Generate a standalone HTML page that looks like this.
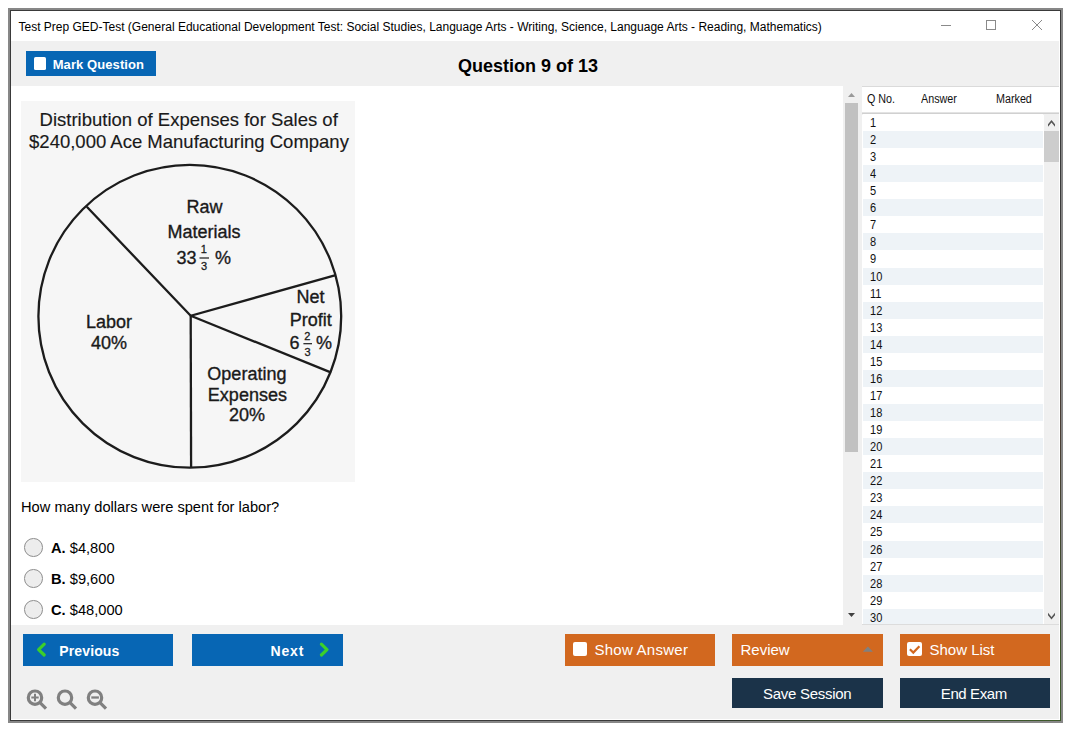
<!DOCTYPE html>
<html>
<head>
<meta charset="utf-8">
<style>
*{box-sizing:border-box;margin:0;padding:0}
html,body{width:1075px;height:735px;background:#fff;overflow:hidden;font-family:"Liberation Sans",Arial,sans-serif}
.a{position:absolute}
#frame{left:8px;top:8px;width:1055px;height:715px;border:2px solid #878787}
#frame2{left:10px;top:10px;width:1051px;height:711px;border:1px solid #3a3a3a}
#title{left:11px;top:11px;width:1048px;height:30px;background:#fff}
#title .t{left:7.5px;top:9px;font-size:12px;color:#000;white-space:nowrap}
#toolbar{left:11px;top:41px;width:1048px;height:45px;background:#f0f0f0}
#footer{left:11px;top:625px;width:1048px;height:94px;background:#f0f0f0}
#content{left:11px;top:86px;width:832px;height:539px;background:#fff}
.btn{position:absolute;color:#fff;white-space:nowrap}
.blue{background:#0766b4}
.orange{background:#d2681f}
.navy{background:#1b3349}
.txt{position:absolute;white-space:nowrap;color:#fff;font-size:15px}
.q{position:absolute;white-space:nowrap;color:#000;font-size:14.67px}
.radio{position:absolute;width:18.7px;height:18.7px;border-radius:50%;border:1px solid #8e8e8e;background:#ededed}
#sb{left:843px;top:86px;width:19px;height:539px;background:#f0f0f0}
#panel{left:862px;top:86px;width:197px;height:539px;background:#fff}
.row{position:absolute;left:1px;width:180px;height:17.06px;background:#fff}
.row.alt{background:#eef3f7}
.row span{position:absolute;left:7px;top:1px;font-size:13px;color:#111;transform:scaleX(0.85);transform-origin:0 0}
.hd{position:absolute;top:6px;font-size:12.5px;color:#111;transform:scaleX(0.86);transform-origin:0 0;white-space:nowrap}
</style>
</head>
<body>
<div class="a" id="frame"></div>
<div class="a" id="frame2"></div>
<div class="a" style="left:1060px;top:200px;width:1px;height:521px;background:linear-gradient(#3a3a3a,#4a3d33 45%,#3d4f2c 80%,#3e5a2a)"></div>
<div class="a" style="left:700px;top:720px;width:361px;height:1px;background:linear-gradient(90deg,#2a2a2a,#35452a 40%,#3e5a2a)"></div>
<div class="a" id="title"><span class="a t">Test Prep GED-Test (General Educational Development Test: Social Studies, Language Arts - Writing, Science, Language Arts - Reading, Mathematics)</span></div>
<svg class="a" style="left:930px;top:15px" width="120" height="22" viewBox="930 15 120 22">
  <line x1="941" y1="25.5" x2="951" y2="25.5" stroke="#8a8a8a" stroke-width="1"/>
  <rect x="986.5" y="20.5" width="9" height="9" fill="none" stroke="#8a8a8a" stroke-width="1"/>
  <path d="M1032 20 L1042 30 M1042 20 L1032 30" stroke="#8a8a8a" stroke-width="1" fill="none"/>
</svg>
<div class="a" id="toolbar"></div>
<div class="btn blue" style="left:26px;top:51px;width:130px;height:25px"></div>
<div class="a" style="left:33.7px;top:57.2px;width:12.8px;height:13.3px;background:#fff;border-radius:1.6px"></div>
<div class="a" style="left:52.7px;top:56.6px;font-size:13px;font-weight:bold;color:#fff;white-space:nowrap;letter-spacing:0.08px">Mark Question</div>
<div class="a" style="left:458px;top:56px;font-size:18px;font-weight:bold;color:#000;white-space:nowrap">Question 9 of 13</div>

<div class="a" id="content"></div>

<svg class="a" style="left:21px;top:101px" width="334" height="381" viewBox="21 101 334 381" font-family="Liberation Sans, Arial, sans-serif">
  <rect x="21" y="101" width="334" height="381" fill="#f6f6f6"/>
  <text x="188.7" y="126.2" font-size="18.5" text-anchor="middle" fill="#1a1a1a" stroke="#1a1a1a" stroke-width="0.15">Distribution of Expenses for Sales of</text>
  <text x="189" y="148.3" font-size="18.5" text-anchor="middle" fill="#1a1a1a" stroke="#1a1a1a" stroke-width="0.15">$240,000 Ace Manufacturing Company</text>
  <g fill="none" stroke="#1c1c1c" stroke-width="2.3">
    <circle cx="189.8" cy="316.3" r="151.4"/>
    <polyline points="86.8,206.8 190.7,315.8 335.7,275.1"/>
    <line x1="190.7" y1="315.8" x2="330.1" y2="372.1"/>
    <line x1="190.7" y1="315.8" x2="191.1" y2="467.7"/>
  </g>
  <g font-size="18" fill="#1a1a1a" stroke="#1a1a1a" stroke-width="0.35" text-anchor="middle">
    <text x="204.4" y="213.4">Raw</text>
    <text x="204" y="237.9">Materials</text>
    <text x="186.4" y="264">33</text>
    <text x="215" y="264" text-anchor="start">%</text>
    <text x="109.1" y="327.8">Labor</text>
    <text x="108.9" y="348.5">40%</text>
    <text x="310.5" y="302.9">Net</text>
    <text x="310.8" y="325.8">Profit</text>
    <text x="294.4" y="348.6">6</text>
    <text x="316" y="348.6" text-anchor="start">%</text>
    <text x="246.9" y="380">Operating</text>
    <text x="247.4" y="400.5">Expenses</text>
    <text x="246.9" y="420.9">20%</text>
  </g>
  <g font-size="11" fill="#1a1a1a" stroke="#1a1a1a" stroke-width="0.3" text-anchor="middle">
    <text x="203.8" y="253.2">1</text>
    <text x="204" y="269.6">3</text>
    <text x="307.3" y="340">2</text>
    <text x="307.6" y="356.3">3</text>
  </g>
  <g stroke="#1a1a1a" stroke-width="1.2">
    <line x1="199.5" y1="258" x2="209" y2="258"/>
    <line x1="303.4" y1="343.7" x2="312" y2="343.7"/>
  </g>
</svg>

<div class="q" style="left:21px;top:499px">How many dollars were spent for labor?</div>
<div class="radio" style="left:24.2px;top:538.1px"></div>
<div class="q" style="left:51px;top:540px"><b>A.</b> $4,800</div>
<div class="radio" style="left:24.2px;top:569.1px"></div>
<div class="q" style="left:51px;top:571px"><b>B.</b> $9,600</div>
<div class="radio" style="left:24.2px;top:600.1px"></div>
<div class="q" style="left:51px;top:602px"><b>C.</b> $48,000</div>

<div class="a" id="sb"></div>
<svg class="a" style="left:843px;top:86px" width="19" height="539" viewBox="843 86 19 539">
  <polygon points="848,97 855,97 851.5,93" fill="#999"/>
  <rect x="845" y="103" width="13" height="349" fill="#c1c1c1"/>
  <polygon points="848,613 855,613 851.5,617" fill="#404040"/>
</svg>

<div class="a" id="panel">
  <div class="a" style="left:0;top:0;width:197px;height:1px;background:#dadada"></div>
  <div class="hd" style="left:5px">Q No.</div>
  <div class="hd" style="left:59px">Answer</div>
  <div class="hd" style="left:134px">Marked</div>
  <div class="a" style="left:0;top:26px;width:197px;height:3px;background:linear-gradient(#e3e3e3 0 1px,#d0d0d0 1px 2px,#f2f2f2 2px 3px)"></div>
</div>
<div class="a" id="rows" style="left:862px;top:114px;width:197px;height:510px;overflow:hidden">
<div class="row" style="top:0.00px"><span>1</span></div>
<div class="row alt" style="top:17.06px"><span>2</span></div>
<div class="row" style="top:34.12px"><span>3</span></div>
<div class="row alt" style="top:51.18px"><span>4</span></div>
<div class="row" style="top:68.24px"><span>5</span></div>
<div class="row alt" style="top:85.30px"><span>6</span></div>
<div class="row" style="top:102.36px"><span>7</span></div>
<div class="row alt" style="top:119.42px"><span>8</span></div>
<div class="row" style="top:136.48px"><span>9</span></div>
<div class="row alt" style="top:153.54px"><span>10</span></div>
<div class="row" style="top:170.60px"><span>11</span></div>
<div class="row alt" style="top:187.66px"><span>12</span></div>
<div class="row" style="top:204.72px"><span>13</span></div>
<div class="row alt" style="top:221.78px"><span>14</span></div>
<div class="row" style="top:238.84px"><span>15</span></div>
<div class="row alt" style="top:255.90px"><span>16</span></div>
<div class="row" style="top:272.96px"><span>17</span></div>
<div class="row alt" style="top:290.02px"><span>18</span></div>
<div class="row" style="top:307.08px"><span>19</span></div>
<div class="row alt" style="top:324.14px"><span>20</span></div>
<div class="row" style="top:341.20px"><span>21</span></div>
<div class="row alt" style="top:358.26px"><span>22</span></div>
<div class="row" style="top:375.32px"><span>23</span></div>
<div class="row alt" style="top:392.38px"><span>24</span></div>
<div class="row" style="top:409.44px"><span>25</span></div>
<div class="row alt" style="top:426.50px"><span>26</span></div>
<div class="row" style="top:443.56px"><span>27</span></div>
<div class="row alt" style="top:460.62px"><span>28</span></div>
<div class="row" style="top:477.68px"><span>29</span></div>
<div class="row alt" style="top:494.74px"><span>30</span></div>
</div>
<div class="a" style="left:1044px;top:114px;width:15px;height:510px;background:#f0f0f0"></div>
<div class="a" style="left:862px;top:624px;width:197px;height:1px;background:#dcdcdc"></div>
<svg class="a" style="left:1043px;top:114px" width="16" height="511" viewBox="1043 114 16 511">
  <polygon points="1048,124.2 1051.5,120.1 1055,124.2 1055,126.7 1051.5,122.6 1048,126.7" fill="#555"/>
  <rect x="1044" y="131" width="15" height="31" fill="#cdcdcd"/>
  <polygon points="1048,612.8 1051.5,616.9 1055,612.8 1055,615.3 1051.5,619.4 1048,615.3" fill="#555"/>
</svg>

<div class="a" id="footer"></div>
<!-- Previous -->
<div class="btn blue" style="left:23px;top:634px;width:150px;height:32px"></div>
<svg class="a" style="left:23px;top:634px" width="150" height="32" viewBox="23 634 150 32">
  <polyline points="44.2,644.2 38.6,649.6 44.2,655" fill="none" stroke="#3ccf2a" stroke-width="3.2" stroke-linecap="round" stroke-linejoin="round"/>
</svg>
<div class="txt" style="left:59.3px;top:642.9px;font-size:14px;font-weight:bold;letter-spacing:0.12px;transform:none">Previous</div>
<!-- Next -->
<div class="btn blue" style="left:192px;top:634px;width:151px;height:32px"></div>
<svg class="a" style="left:192px;top:634px" width="151" height="32" viewBox="192 634 151 32">
  <polyline points="321.4,644.2 327,649.6 321.4,655" fill="none" stroke="#3ccf2a" stroke-width="3.2" stroke-linecap="round" stroke-linejoin="round"/>
</svg>
<div class="txt" style="left:270.6px;top:642.9px;font-size:14px;font-weight:bold;letter-spacing:0.8px;transform:none">Next</div>
<!-- Show Answer -->
<div class="btn orange" style="left:565px;top:634px;width:150px;height:32px"></div>
<div class="a" style="left:572.6px;top:641.7px;width:14.6px;height:14.5px;background:#fff;border-radius:2px"></div>
<div class="txt" style="left:594.5px;top:641px;letter-spacing:0.25px">Show Answer</div>
<!-- Review -->
<div class="btn orange" style="left:732px;top:634px;width:151px;height:32px"></div>
<div class="txt" style="left:740.5px;top:641px">Review</div>
<svg class="a" style="left:860px;top:644px" width="16" height="10" viewBox="860 644 16 10">
  <polygon points="862.8,651.8 872.9,651.8 867.9,646.5" fill="#808080"/>
</svg>
<!-- Show List -->
<div class="btn orange" style="left:900px;top:634px;width:150px;height:32px"></div>
<div class="a" style="left:907.4px;top:641.7px;width:14.7px;height:14.7px;background:#fff;border-radius:2px"></div>
<svg class="a" style="left:905px;top:640px" width="20" height="20" viewBox="905 640 20 20">
  <polyline points="909.9,649.3 913.3,652.6 919.4,646.3" fill="none" stroke="#d2681f" stroke-width="2.2"/>
</svg>
<div class="txt" style="left:929.5px;top:641px">Show List</div>
<!-- Save Session / End Exam -->
<div class="btn navy" style="left:732px;top:678px;width:151px;height:30px"></div>
<div class="txt" style="left:732px;top:684.6px;width:151px;text-align:center;letter-spacing:-0.28px;text-indent:-0.5px">Save Session</div>
<div class="btn navy" style="left:900px;top:678px;width:150px;height:30px"></div>
<div class="txt" style="left:898.8px;top:684.6px;width:150px;text-align:center;letter-spacing:-0.4px">End Exam</div>
<!-- zoom icons -->
<svg class="a" style="left:24px;top:686px" width="90" height="26" viewBox="24 686 90 26" fill="none" stroke="#808080">
  <circle cx="35" cy="697.7" r="6.7" stroke-width="3.2"/>
  <line x1="40" y1="702.7" x2="46" y2="708.7" stroke-width="3.2"/>
  <line x1="31.3" y1="697.5" x2="38.7" y2="697.5" stroke-width="2"/>
  <line x1="35" y1="693.8" x2="35" y2="701.2" stroke-width="2"/>
  <circle cx="65" cy="697.7" r="6.7" stroke-width="3.2"/>
  <line x1="70" y1="702.7" x2="76" y2="708.7" stroke-width="3.2"/>
  <circle cx="95" cy="697.7" r="6.7" stroke-width="3.2"/>
  <line x1="100" y1="702.7" x2="106" y2="708.7" stroke-width="3.2"/>
  <line x1="91.3" y1="697.5" x2="98.9" y2="697.5" stroke-width="2.3"/>
</svg>
</body>
</html>
